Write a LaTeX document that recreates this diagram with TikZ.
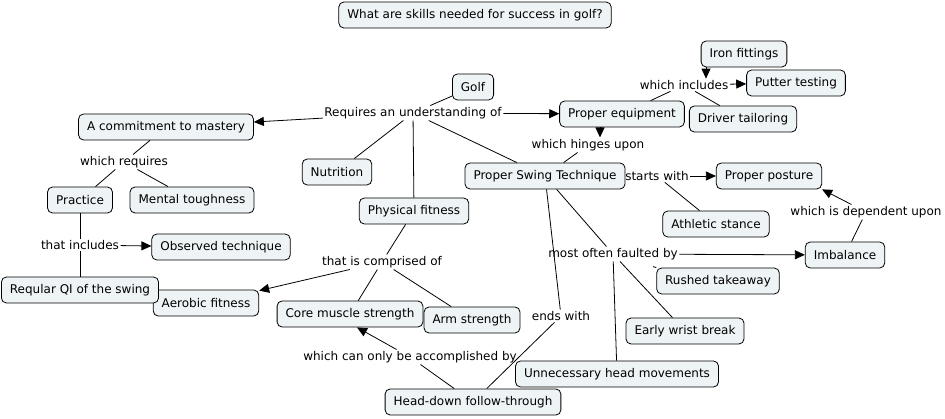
\documentclass[tikz,border=0pt]{standalone}
\usepackage{fontspec}
\setmainfont{DejaVu Sans}
\usetikzlibrary{arrows.meta}
\definecolor{cmapfill}{HTML}{EEF3F5}
\tikzset{
	concept/.style={draw, line width=0.8pt, fill=cmapfill, rounded corners=5pt,
		minimum height=26pt, inner xsep=8.5pt, inner ysep=2pt,
		font=\fontsize{12}{14}\selectfont},
	phrase/.style={inner sep=1.5pt, font=\fontsize{12}{14}\selectfont},
	link/.style={line width=0.8pt},
	arr/.style={link, -{Triangle[length=10pt,width=9pt]}}
}
\begin{document}
\begin{tikzpicture}[x=1pt,y=-1pt]
	\useasboundingbox (0,0) rectangle (945,419);
	
	\node[concept] (title) at (475,15) {What are skills needed for success in golf?};
	\node[concept] (golf) at (473,87) {Golf};
	\node[phrase] (req) at (413,113) {Requires an understanding of};
	\node[concept] (mastery) at (166,127) {A commitment to mastery};
	\node[concept] (equip) at (622,114) {Proper equipment};
	\node[concept] (iron) at (744,54) {Iron fittings};
	\node[phrase] (incl) at (684,85) {which includes};
	\node[concept] (putter) at (796,83) {Putter testing};
	\node[concept] (driver) at (743,119) {Driver tailoring};
	\node[phrase] (hinges) at (588,145) {which hinges upon};
	\node[concept] (swing) at (545,176) {Proper Swing Technique};
	\node[phrase] (starts) at (657,176) {starts with};
	\node[concept] (posture) at (769,176) {Proper posture};
	\node[phrase] (depend) at (866,212) {which is dependent upon};
	\node[concept] (stance) at (716,224) {Athletic stance};
	\node[concept] (imbal) at (845,255) {Imbalance};
	\node[phrase] (fault) at (613,254) {most often faulted by};
	\node[concept] (rushed) at (718,281) {Rushed takeaway};
	\node[concept] (wrist) at (685,331) {Early wrist break};
	\node[concept] (head) at (617,374) {Unnecessary head movements};
	\node[phrase] (ends) at (561,316) {ends with};
	\node[concept] (follow) at (473,402) {Head-down follow-through};
	\node[phrase] (accomp) at (410,357) {which can only be accomplished by};
	\node[concept] (core) at (350,314) {Core muscle strength};
	\node[concept] (arm) at (472,320) {Arm strength};
	\node[phrase] (compr) at (382,262) {that is comprised of};
	\node[concept] (phys) at (414,211) {Physical fitness};
	\node[concept] (nutr) at (337,172) {Nutrition};
	\node[concept] (aerob) at (206,303) {Aerobic fitness};
	\node[concept] (qi) at (80,290) {Reqular QI of the swing};
	\node[phrase] (thatincl) at (80,245) {that includes};
	\node[concept] (observ) at (221,247) {Observed technique};
	\node[concept] (practice) at (80,200) {Practice};
	\node[concept] (mental) at (192,200) {Mental toughness};
	\node[phrase] (requires) at (124,162) {which requires};
	
	\draw[link] (golf) -- (req);
	\draw[arr] (req) -- (mastery);
	\draw[arr] (req) -- (equip);
	\draw[link] (req) -- (nutr);
	\draw[link] (req) -- (phys);
	\draw[link] (req) -- (swing);
	\draw[link] (swing) -- (hinges);
	\draw[arr] ([xshift=-22pt]equip.south) -- ([xshift=-22pt]equip.south |- hinges.north);
	\draw[link] (equip) -- (incl);
	\draw[arr] ([xshift=-38pt]iron.south) -- ([xshift=-38pt]iron.south |- incl.north);
	\draw[arr] (incl) -- (putter);
	\draw[link] (incl) -- (driver);
	\draw[arr] (starts) -- (posture);
	\draw[link] (starts) -- (stance);
	\draw[link] (imbal) -- (depend);
	\draw[arr] (depend) -- (posture.south east);
	\draw[link] (swing) -- (fault);
	\draw[arr] (fault) -- (imbal);
	\draw[link, shorten <=17pt] (fault) -- (rushed.north west);
	\draw[link] (fault) -- (wrist);
	\draw[link] (fault) -- (head);
	\draw[link] (swing) -- (ends);
	\draw[link] (ends) -- (follow);
	\draw[link] (follow) -- (accomp);
	\draw[arr] (accomp) -- ([xshift=7pt]core.south);
	\draw[link] (phys) -- (compr);
	\draw[arr] (compr) -- (aerob);
	\draw[link] (compr) -- (core);
	\draw[link] (compr) -- (arm);
	\draw[link] (mastery) -- (requires);
	\draw[link] (requires) -- (practice);
	\draw[link] (requires) -- (mental);
	\draw[link] (practice) -- (thatincl);
	\draw[arr] (thatincl) -- (observ);
	\draw[link] (thatincl) -- (qi);
\end{tikzpicture}
\end{document}
